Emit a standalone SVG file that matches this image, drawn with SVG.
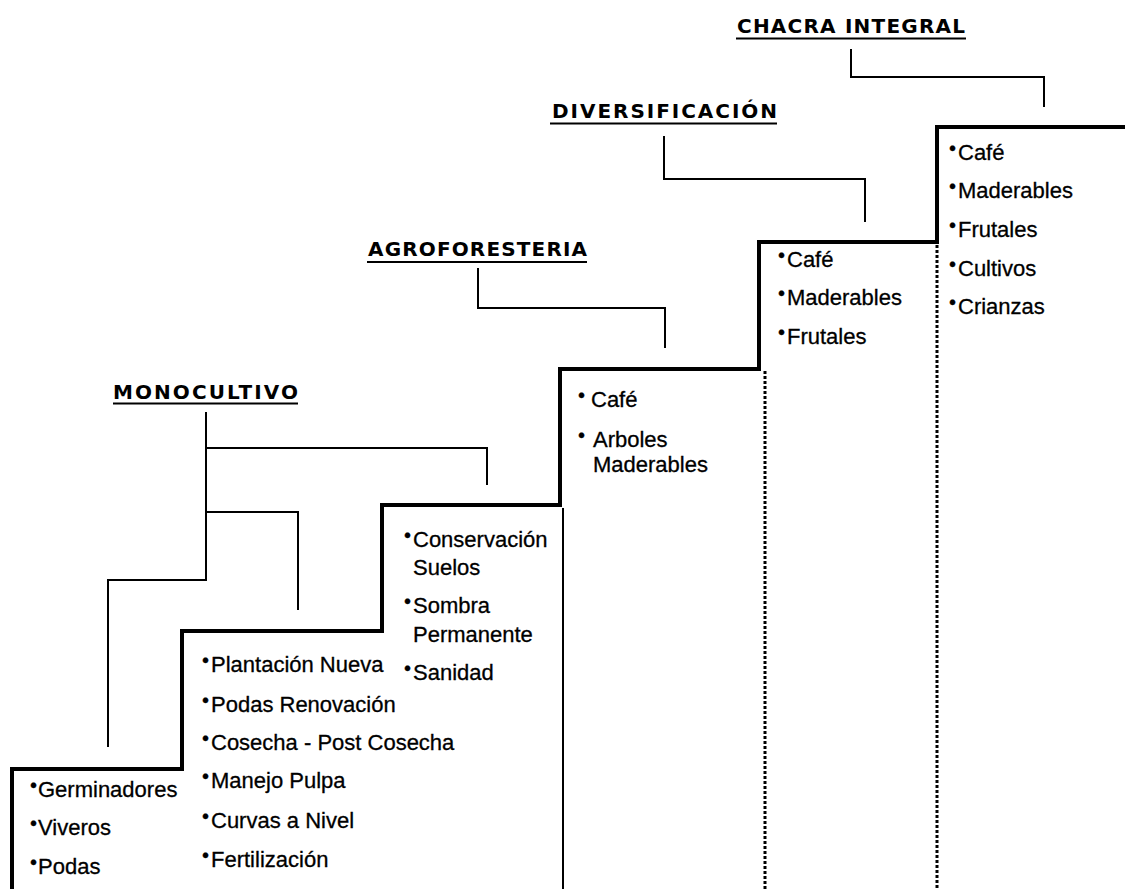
<svg xmlns="http://www.w3.org/2000/svg" width="1125" height="889" viewBox="0 0 1125 889">
  <style>
    .stair { fill: none; stroke: #000; stroke-width: 4; stroke-linejoin: miter; }
    .conn { fill: none; stroke: #000; stroke-width: 2; }
    .dot { fill: none; stroke: #000; stroke-width: 3; stroke-dasharray: 3 2; }
    .ttl { font-family: "Comic Sans MS", "DejaVu Sans", sans-serif; font-weight: bold; font-size: 20px; fill: #000; }
    .ul { stroke: #000; stroke-width: 2; }
    .t { font-family: "Liberation Sans", Arial, sans-serif; font-size: 22px; fill: #000; stroke: #000; stroke-width: 0.3; }
    .bl { font-size: 20px; }
  </style>
  <rect width="1125" height="889" fill="#fff"/>

  <!-- staircase and column separators -->
  <g id="stairs">
    <path class="stair" d="M12,889 V769 H182 V631 H382 V505 H560 V369 H759 V242 H937 V127 H1125"/>
    <line class="conn" x1="563" y1="508" x2="563" y2="889"/>
    <line class="dot" x1="765" y1="371" x2="765" y2="889"/>
    <line class="dot" x1="937" y1="245" x2="937" y2="889"/>
  </g>

  <!-- bracket connectors from titles to steps -->
  <g id="connectors">
    <path class="conn" d="M206,412 V580 H108 V747"/>
    <path class="conn" d="M206,448 H487 V485"/>
    <path class="conn" d="M206,512 H298 V610"/>
    <path class="conn" d="M478,268 V308 H665 V348"/>
    <path class="conn" d="M664,136 V179 H865 V222"/>
    <path class="conn" d="M851,49 V77 H1044 V107"/>
  </g>

  <g id="title-monocultivo">
    <text class="ttl" x="113" y="399" textLength="185" lengthAdjust="spacing">MONOCULTIVO</text>
    <line class="ul" x1="113" y1="403.5" x2="298" y2="403.5"/>
  </g>
  <g id="title-agroforesteria">
    <text class="ttl" x="368" y="256" textLength="219" lengthAdjust="spacing">AGROFORESTERIA</text>
    <line class="ul" x1="367" y1="262" x2="587" y2="262"/>
  </g>
  <g id="title-diversificacion">
    <text class="ttl" x="552" y="118" textLength="225" lengthAdjust="spacing">DIVERSIFICACIÓN</text>
    <line class="ul" x1="550" y1="123.5" x2="777" y2="123.5"/>
  </g>
  <g id="title-chacra">
    <text class="ttl" x="737" y="33" textLength="228" lengthAdjust="spacing">CHACRA INTEGRAL</text>
    <line class="ul" x1="736" y1="38.5" x2="966" y2="38.5"/>
  </g>

  <g id="step-1">
    <text class="t"><tspan class="bl" x="30" y="792">•</tspan><tspan x="38" y="797">Germinadores</tspan></text>
    <text class="t"><tspan class="bl" x="30" y="830">•</tspan><tspan x="38" y="835">Viveros</tspan></text>
    <text class="t"><tspan class="bl" x="30" y="869">•</tspan><tspan x="38" y="874">Podas</tspan></text>
  </g>

  <g id="step-2">
    <text class="t"><tspan class="bl" x="202" y="667">•</tspan><tspan x="211" y="672">Plantación Nueva</tspan></text>
    <text class="t"><tspan class="bl" x="202" y="707">•</tspan><tspan x="211" y="712">Podas Renovación</tspan></text>
    <text class="t"><tspan class="bl" x="202" y="745">•</tspan><tspan x="211" y="750">Cosecha - Post Cosecha</tspan></text>
    <text class="t"><tspan class="bl" x="202" y="783">•</tspan><tspan x="211" y="788">Manejo Pulpa</tspan></text>
    <text class="t"><tspan class="bl" x="202" y="823">•</tspan><tspan x="211" y="828">Curvas a Nivel</tspan></text>
    <text class="t"><tspan class="bl" x="202" y="862">•</tspan><tspan x="211" y="867">Fertilización</tspan></text>
  </g>

  <g id="step-3">
    <text class="t"><tspan class="bl" x="404" y="542">•</tspan><tspan x="413" y="547">Conservación</tspan></text>
    <text class="t" x="413" y="575">Suelos</text>
    <text class="t"><tspan class="bl" x="404" y="608">•</tspan><tspan x="413" y="613">Sombra</tspan></text>
    <text class="t" x="413" y="642">Permanente</text>
    <text class="t"><tspan class="bl" x="404" y="675">•</tspan><tspan x="413" y="680">Sanidad</tspan></text>
  </g>

  <g id="step-4">
    <text class="t"><tspan class="bl" x="578" y="402">•</tspan><tspan x="591" y="407">Café</tspan></text>
    <text class="t"><tspan class="bl" x="578" y="442">•</tspan><tspan x="593" y="447">Arboles</tspan></text>
    <text class="t" x="593" y="472">Maderables</text>
  </g>

  <g id="step-5">
    <text class="t"><tspan class="bl" x="778" y="262">•</tspan><tspan x="787" y="267">Café</tspan></text>
    <text class="t"><tspan class="bl" x="778" y="300">•</tspan><tspan x="787" y="305">Maderables</tspan></text>
    <text class="t"><tspan class="bl" x="778" y="339">•</tspan><tspan x="787" y="344">Frutales</tspan></text>
  </g>

  <g id="step-6">
    <text class="t"><tspan class="bl" x="949" y="155">•</tspan><tspan x="958" y="160">Café</tspan></text>
    <text class="t"><tspan class="bl" x="949" y="193">•</tspan><tspan x="958" y="198">Maderables</tspan></text>
    <text class="t"><tspan class="bl" x="949" y="232">•</tspan><tspan x="958" y="237">Frutales</tspan></text>
    <text class="t"><tspan class="bl" x="949" y="271">•</tspan><tspan x="958" y="276">Cultivos</tspan></text>
    <text class="t"><tspan class="bl" x="949" y="309">•</tspan><tspan x="958" y="314">Crianzas</tspan></text>
  </g>
</svg>
